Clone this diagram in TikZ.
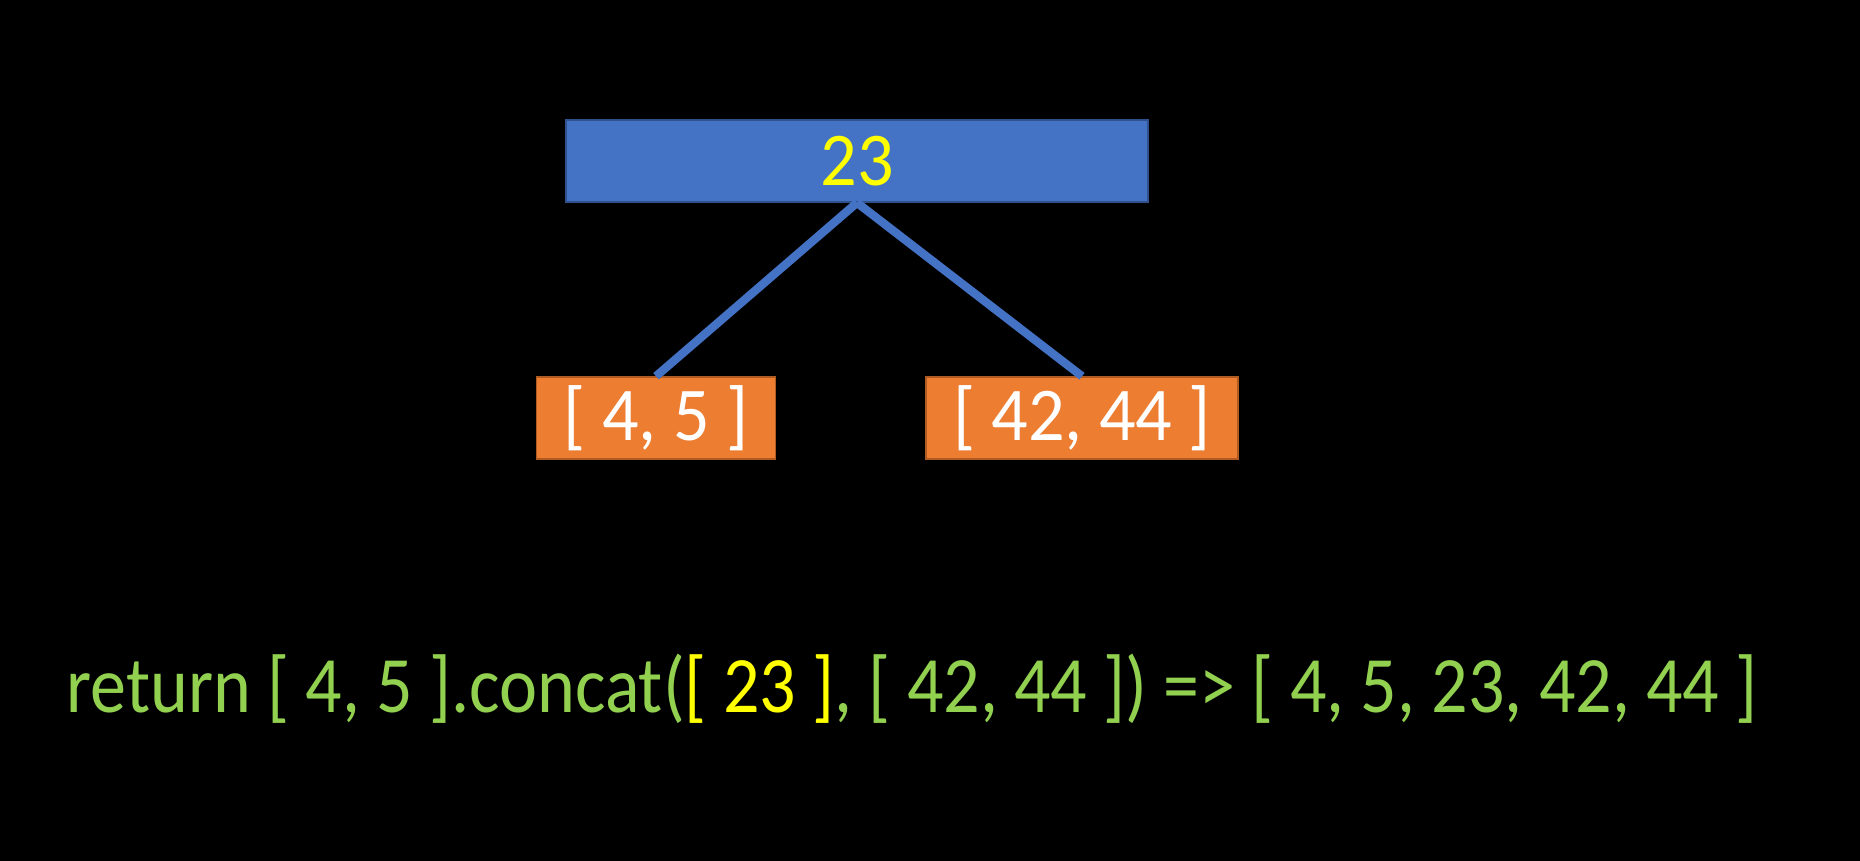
\documentclass[tikz,border=0pt]{standalone}
\usepackage{fontspec}
\setmainfont{Carlito}
\newfontfamily\narrowfont[FakeStretch=0.9]{Carlito}
\newfontfamily\boxfont[FakeStretch=0.95]{Carlito}
\usepackage{tikz}
\definecolor{rootblue}{HTML}{4472C4}
\definecolor{rootedge}{HTML}{2F528F}
\definecolor{leaforange}{HTML}{ED7D31}
\definecolor{leafedge}{HTML}{AE5A21}
\definecolor{codegreen}{HTML}{92D050}
\definecolor{hiyellow}{HTML}{FFFF00}
\newcommand{\bigtext}{\boxfont\fontsize{38}{45}\selectfont}
\tikzset{
  rootbox/.style={fill=rootblue, draw=rootedge, line width=0.75pt, text=hiyellow,
    minimum width=291pt, minimum height=41pt, inner sep=0pt, font=\bigtext},
  leafbox/.style={fill=leaforange, draw=leafedge, line width=0.75pt, text=white,
    minimum height=41pt, inner sep=0pt, font=\bigtext},
}
\begin{document}
\begin{tikzpicture}
 \fill[black] (0pt,0pt) rectangle (930pt,-430.5pt);
 \useasboundingbox (0pt,0pt) rectangle (930pt,-430.5pt);
 \node[rootbox] (root) at (428.5pt,-80.5pt) {23} [sibling distance = 213pt, level distance = 128.5pt,
    edge from parent/.style={draw=rootblue, line width=4.2pt},
    edge from parent path={(\tikzparentnode.south) -- (\tikzchildnode.north)}]
    child[xshift=6pt] {node[leafbox, minimum width=119.5pt] (left) {[ 4, 5 ]}}
    child[xshift=6pt] {node[leafbox, minimum width=156pt] (right) {[ 42, 44 ]}};
 \node[anchor=base, text=codegreen, font=\narrowfont\fontsize{40}{48}\selectfont, inner sep=0pt] (result) at (456pt,-356pt)
    {return [ 4, 5 ].concat(\textcolor{hiyellow}{[ 23 ]}, [ 42, 44 ]) => [ 4, 5, 23, 42, 44 ]};
\end{tikzpicture}
\end{document}
